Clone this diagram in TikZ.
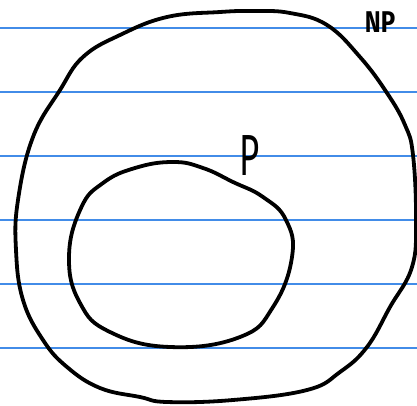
\documentclass[tikz,border=0pt]{standalone}
\usepackage{fontspec}
\setmainfont{Fira Sans}
\definecolor{ruleblue}{RGB}{66,140,232}
\tikzset{
  ruling/.style={draw=ruleblue, line width=2pt},
  pen/.style={draw=black, line width=3.8pt, line join=round, line cap=round},
  hand/.style={inner sep=0pt, text=black}
}
\begin{document}
\begin{tikzpicture}[x=1pt,y=-1pt]
\useasboundingbox[fill=white] (0,0) rectangle (417,405);
% ruled lines
\foreach \yy in {28,92,156,220,284,348}
  \draw[ruling] (0,\yy) -- (417,\yy);
% outer region (NP)
\draw[pen] plot[smooth cycle, tension=0.7] coordinates {
  (255,11) (290,13) (327,25) (360,57) (387,93) (405,125) (413,155)
  (416,220) (412,267) (390,307) (367,347) (340,372) (307,390)
  (233,400) (167,402) (140,397) (100,388) (67,367) (43,340)
  (23,300) (16,250) (18,200) (33,137) (60,90) (83,57) (120,35)
  (167,17) (220,12)};
% inner region (P)
\draw[pen] plot[smooth cycle, tension=0.75] coordinates {
  (173,162) (203,168) (233,182) (263,197) (286,220) (292,257)
  (273,307) (240,337) (170,347) (110,332) (80,303) (69,257)
  (81,208) (103,183) (135,168)};
% labels
\node[hand, font=\fontsize{30}{30}\selectfont\bfseries] (np) at (380,22)
  {\scalebox{0.8}[1]{NP}};
\node[hand, font=\fontsize{58}{58}\selectfont] (p) at (250,156)
  {\scalebox{0.6}[1]{P}};
\end{tikzpicture}
\end{document}
